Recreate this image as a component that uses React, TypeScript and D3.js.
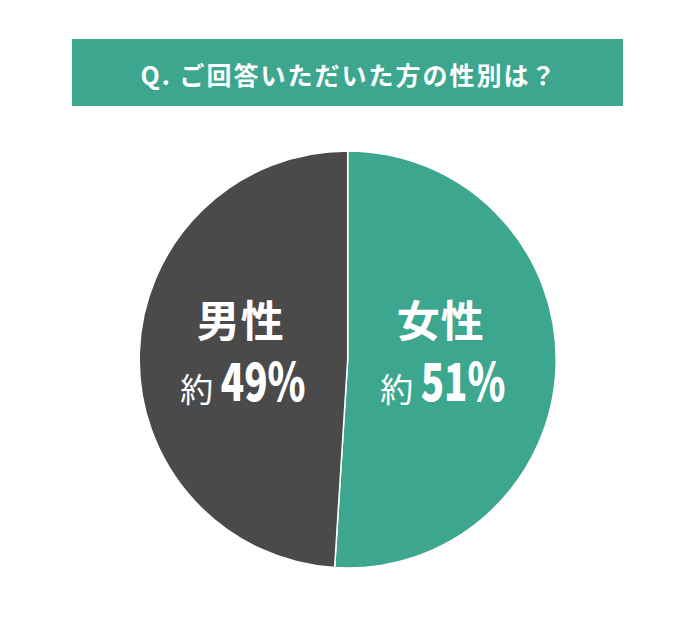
import { useRef, useEffect } from 'react';
import * as d3 from 'd3';

// Survey answer: gender of respondents
const labels = ['女性', '男性'];
const values = [51, 49];
const colors = ['#3ca78e', '#4a4a4a'];
const title = 'Q. ご回答いただいた方の性別は？';

const W = 696;
const H = 626;
const FONT = '"Noto Sans CJK JP", "Noto Sans", sans-serif';

export default function App() {
  const svgRef = useRef<SVGSVGElement>(null);

  useEffect(() => {
    if (!svgRef.current) return;
    const svg = d3.select(svgRef.current);
    svg.selectAll('*').remove();

    // title bar
    svg.append('rect')
      .attr('x', 72)
      .attr('y', 39)
      .attr('width', 551)
      .attr('height', 67)
      .attr('fill', colors[0]);

    svg.append('text')
      .attr('x', 349)
      .attr('y', 74)
      .attr('text-anchor', 'middle')
      .attr('dominant-baseline', 'central')
      .attr('font-family', FONT)
      .attr('font-size', 25)
      .attr('font-weight', 700)
      .attr('letter-spacing', 2)
      .attr('fill', '#fff')
      .text(title);

    // pie
    const cx = 347.7;
    const cy = 359.5;
    const r = 208.5;

    const data = labels.map((l, i) => ({ label: l, value: values[i], color: colors[i] }));
    const pie = d3.pie<typeof data[number]>().sort(null).value((d) => d.value);
    const arcs = pie(data);
    const arc = d3.arc<d3.PieArcDatum<typeof data[number]>>().innerRadius(0).outerRadius(r);

    const g = svg.append('g').attr('transform', `translate(${cx},${cy})`);

    g.selectAll('path')
      .data(arcs)
      .join('path')
      .attr('d', arc)
      .attr('fill', (d) => d.data.color)
      .attr('stroke', '#fff')
      .attr('stroke-width', 1.5)
      .attr('stroke-linejoin', 'round');

    // labels, roughly centred in each half
    const labelArc = d3.arc<d3.PieArcDatum<typeof data[number]>>().innerRadius(100).outerRadius(100);

    arcs.forEach((a) => {
      const [lx] = labelArc.centroid(a);
      const x = lx - 7;
      const lg = g.append('g').attr('transform', `translate(${x},0)`);

      lg.append('text')
        .attr('x', 0)
        .attr('y', 337 - cy)
        .attr('text-anchor', 'middle')
        .attr('font-family', FONT)
        .attr('font-size', 43)
        .attr('font-weight', 700)
        .attr('letter-spacing', 1)
        .attr('fill', '#fff')
        .text(a.data.label);

      lg.append('text')
        .attr('x', -44)
        .attr('y', 402 - cy)
        .attr('text-anchor', 'middle')
        .attr('font-family', FONT)
        .attr('font-size', 33)
        .attr('font-weight', 400)
        .attr('fill', '#fff')
        .text('約');

      lg.append('g')
        .attr('transform', `translate(-20,${401 - cy}) scale(0.74,1)`)
        .append('text')
        .attr('x', 0)
        .attr('y', 0)
        .attr('text-anchor', 'start')
        .attr('font-family', FONT)
        .attr('font-size', 52)
        .attr('font-weight', 900)
        .attr('fill', '#fff')
        .text(`${a.data.value}%`);
    });
  }, []);

  return (
    <svg
      ref={svgRef}
      width={W}
      height={H}
      style={{ display: 'block', position: 'absolute', left: 0, top: 0, background: '#fff' }}
    />
  );
}
